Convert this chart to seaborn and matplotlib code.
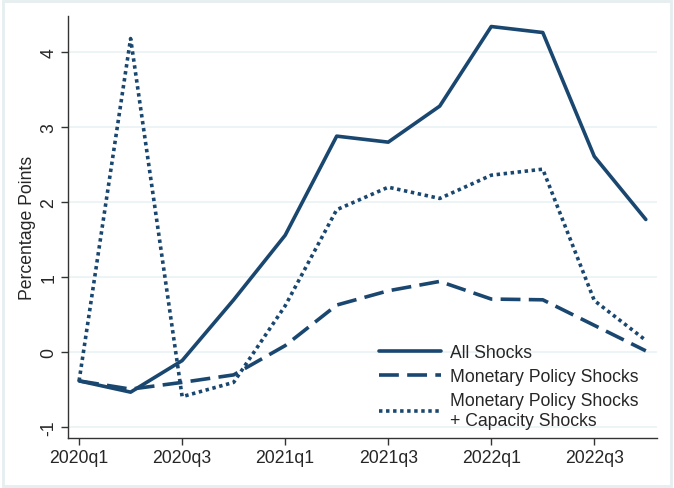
import numpy as np
import pandas as pd
import matplotlib
matplotlib.use("Agg")
import matplotlib.pyplot as plt
import seaborn as sns

# quarters 2020q1 .. 2022q4
quarters = ["2020q1", "2020q2", "2020q3", "2020q4",
            "2021q1", "2021q2", "2021q3", "2021q4",
            "2022q1", "2022q2", "2022q3", "2022q4"]
all_shocks = [-0.38, -0.53, -0.11, 0.70, 1.56, 2.88, 2.80, 3.28, 4.34, 4.26, 2.61, 1.77]
mp_shocks = [-0.38, -0.49, -0.40, -0.30, 0.09, 0.63, 0.82, 0.945, 0.71, 0.70, 0.36, 0.02]
mp_cap_shocks = [-0.38, 4.18, -0.59, -0.40, 0.62, 1.90, 2.20, 2.05, 2.36, 2.44, 0.69, 0.16]

tick_labels = ["2020q1", "2020q3", "2021q1", "2021q3", "2022q1", "2022q3"]
series_names = ["All Shocks", "Monetary Policy Shocks",
                "Monetary Policy Shocks\n+ Capacity Shocks"]

df = pd.DataFrame({
    "t": np.arange(len(quarters)),
    series_names[0]: all_shocks,
    series_names[1]: mp_shocks,
    series_names[2]: mp_cap_shocks,
})
long = df.melt(id_vars="t", var_name="series", value_name="value")

sns.set_style("white")
plt.rcParams["font.family"] = ["Liberation Sans", "DejaVu Sans"]

navy = "#1a476f"
lw = 2.6
fs = 12.7
fig = plt.figure(figsize=(6.74, 4.89), dpi=100)
ax = fig.add_axes([0.1013, 0.1016, 0.8737, 0.8636])

dash_map = {
    series_names[0]: None,
    series_names[1]: (5.5, 2.3),
    series_names[2]: (0.95, 1.0),
}
for name in series_names:
    sub = long[long["series"] == name]
    sns.lineplot(data=sub, x="t", y="value", ax=ax, color=navy, lw=lw,
                 label=name, errorbar=None)
    if dash_map[name] is not None:
        ax.lines[-1].set_dashes(dash_map[name])

ax.set_xlim(-0.21, 11.22)
ax.set_ylim(-1.145, 4.48)
ax.set_xticks(np.arange(0, 12, 2))
ax.set_xticklabels(tick_labels)
ax.set_yticks([-1, 0, 1, 2, 3, 4])
ax.set_yticklabels(["-1", "0", "1", "2", "3", "4"], rotation=90, va="center")
ax.tick_params(axis="both", labelsize=fs, length=5, width=1, color="#333333",
               direction="out", bottom=True, left=True, pad=3)
ax.set_xlabel("")
ax.set_ylabel("Percentage Points", fontsize=fs, labelpad=3)

ax.grid(axis="y", color="#eaf2f3", lw=1.2)
ax.grid(axis="x", visible=False)
ax.set_axisbelow(True)
for s in ["top", "right"]:
    ax.spines[s].set_visible(False)
for s in ["left", "bottom"]:
    ax.spines[s].set_color("#333333")
    ax.spines[s].set_linewidth(1)

leg = ax.legend(loc="lower right", bbox_to_anchor=(0.981, 0.006), frameon=False,
                fontsize=fs, handlelength=3.5, handletextpad=0.55,
                labelspacing=0.4, borderaxespad=0)
for h in leg.get_lines():
    h.set_linewidth(lw)

# light outer frame like the Stata graph region
fig.patches.append(plt.Rectangle((0.004, 0.004), 0.992, 0.992, transform=fig.transFigure,
                                 fill=False, edgecolor="#e6eef0", lw=2))

fig.savefig("out.png", dpi=100)
